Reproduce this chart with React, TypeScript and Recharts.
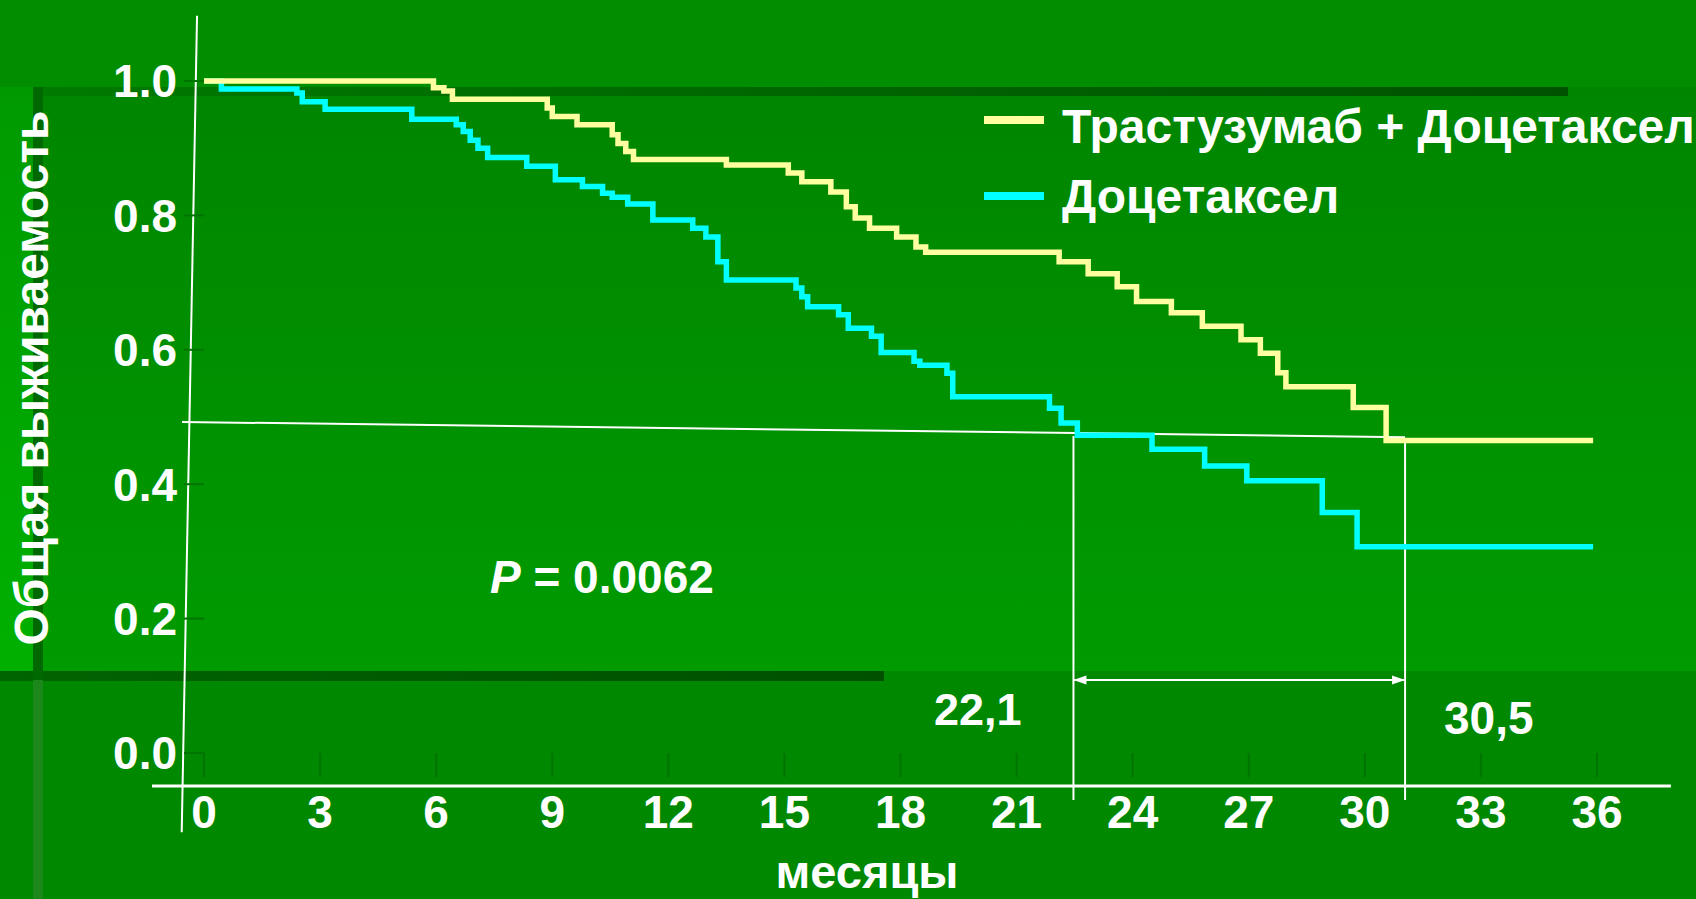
import React from "react";
import { LineChart, Line, XAxis, YAxis, ReferenceLine } from "recharts";

// Kaplan-Meier steps
const combMonths = [0, 5.93, 6.2, 6.42, 8.87, 9.0, 9.64, 10.55, 10.7, 10.9, 11.1, 13.5, 15.1, 15.45, 16.2, 16.6, 16.83, 17.2, 17.9, 18.4, 18.65, 22.1, 22.85, 23.6, 24.1, 25.0, 25.8, 26.8, 27.3, 27.75, 27.96, 29.7, 30.55, 35.9];
const combSurv = [1.0, 0.99, 0.985, 0.973, 0.96, 0.947, 0.935, 0.92, 0.907, 0.895, 0.883, 0.875, 0.863, 0.85, 0.835, 0.813, 0.796, 0.781, 0.768, 0.753, 0.745, 0.731, 0.713, 0.694, 0.672, 0.655, 0.635, 0.615, 0.595, 0.566, 0.545, 0.514, 0.465, 0.465];

const doceMonths = [0, 0.45, 2.4, 2.54, 3.13, 5.37, 6.52, 6.7, 6.88, 7.08, 7.33, 8.34, 9.08, 9.78, 10.3, 10.55, 10.95, 11.6, 12.63, 12.97, 13.28, 13.5, 15.3, 15.45, 15.6, 16.4, 16.65, 17.25, 17.5, 18.35, 18.5, 19.2, 19.35, 21.85, 22.15, 22.57, 24.5, 25.86, 26.95, 28.9, 29.8, 35.9];
const doceSurv = [1.0, 0.988, 0.982, 0.969, 0.958, 0.943, 0.935, 0.925, 0.912, 0.9, 0.886, 0.873, 0.853, 0.843, 0.833, 0.827, 0.817, 0.793, 0.781, 0.768, 0.731, 0.704, 0.692, 0.679, 0.664, 0.652, 0.632, 0.62, 0.596, 0.583, 0.577, 0.565, 0.53, 0.513, 0.491, 0.473, 0.452, 0.427, 0.405, 0.358, 0.307, 0.307];

const xTicks = [0, 3, 6, 9, 12, 15, 18, 21, 24, 27, 30, 33, 36];
const yTicks = [0, 0.2, 0.4, 0.6, 0.8, 1.0];

const seriesNames = ["Трастузумаб + Доцетаксел", "Доцетаксел"];
const seriesColors = ["#ffffa0", "#00ffff"];

// hand drawn lines of the slide, in data units
const yAxisSeg = [{ x: -0.18, y: 1.097 }, { x: -0.576, y: -0.118 }];
const xAxisSeg = [{ x: -1.343, y: -0.049 }, { x: 37.91, y: -0.049 }];
const medianSeg = [{ x: -0.568, y: 0.4926 }, { x: 31.04, y: 0.47 }];
const med1Seg = [{ x: 22.47, y: 0.4717 }, { x: 22.47, y: -0.07 }];
const med2Seg = [{ x: 31.04, y: 0.4688 }, { x: 31.04, y: -0.07 }];
const arrowSeg = [{ x: 22.47, y: 0.1086 }, { x: 31.04, y: 0.1086 }];

const FONT = '"Liberation Sans", Arial, Helvetica, sans-serif';

const combData = combMonths.map((t, i) => ({ t, s: combSurv[i] }));
const doceData = doceMonths.map((t, i) => ({ t, s: doceSurv[i] }));

const tickStyle = { fill: "#ffffff", fontSize: 46, fontWeight: 700, fontFamily: FONT };

const ArrowShape = (props: any) => {
  const { x1, y1, x2, y2 } = props;
  const h = 13;
  const w = 4.5;
  return (
    <g>
      <line x1={x1} y1={y1} x2={x2} y2={y2} stroke="#fff" strokeWidth={2} />
      <polygon points={`${x1},${y1} ${x1 + h},${y1 - w} ${x1 + h},${y1 + w}`} fill="#fff" />
      <polygon points={`${x2},${y2} ${x2 - h},${y2 - w} ${x2 - h},${y2 + w}`} fill="#fff" />
    </g>
  );
};

const box = (s: React.CSSProperties): React.CSSProperties => ({ position: "absolute", ...s });

export default function App() {
  return (
    <div style={box({ left: 0, top: 0, width: 1696, height: 899, overflow: "hidden", background: "#008e00", fontFamily: FONT })}>
      {/* slide background */}
      <div style={box({ left: 43, top: 87, width: 1653, height: 584, background: "linear-gradient(#008500, #009b00)" })} />
      <div style={box({ left: 0, top: 87, width: 33, height: 584, background: "linear-gradient(#009a00, #00b000)" })} />
      <div style={box({ left: 33, top: 87, width: 1535, height: 9, background: "linear-gradient(90deg, #007a00, #005200)" })} />
      <div style={box({ left: 0, top: 671, width: 1696, height: 228, background: "#008800" })} />
      <div style={box({ left: 0, top: 671, width: 884, height: 10, background: "linear-gradient(90deg, #006400, #005000)" })} />
      <div style={box({ left: 33, top: 87, width: 10, height: 593, background: "#006800" })} />
      <div style={box({ left: 33, top: 680, width: 10, height: 219, background: "#1c881c" })} />

      <div style={box({ left: 0, top: 0 })}>
        <LineChart width={1696} height={899} margin={{ top: 81, right: 99, bottom: 46, left: 84 }}>
          <XAxis
            type="number"
            dataKey="t"
            domain={[0, 36]}
            ticks={xTicks}
            interval={0}
            height={100}
            tickSize={24}
            tickMargin={18}
            axisLine={false}
            tickLine={{ stroke: "#007400", strokeWidth: 2 }}
            tick={tickStyle}
          />
          <YAxis
            type="number"
            domain={[0, 1]}
            ticks={yTicks}
            interval={0}
            width={120}
            tickSize={20}
            tickMargin={7}
            axisLine={false}
            tickLine={{ stroke: "#007400", strokeWidth: 2 }}
            tick={tickStyle}
            tickFormatter={(v: number) => v.toFixed(1)}
          />
          <ReferenceLine segment={yAxisSeg} stroke="#fff" strokeWidth={2} ifOverflow="visible" />
          <ReferenceLine segment={xAxisSeg} stroke="#fff" strokeWidth={3} ifOverflow="visible" />
          <ReferenceLine segment={medianSeg} stroke="#fff" strokeWidth={2} ifOverflow="visible" />
          <ReferenceLine segment={med1Seg} stroke="#fff" strokeWidth={2} ifOverflow="visible" />
          <ReferenceLine segment={med2Seg} stroke="#fff" strokeWidth={2} ifOverflow="visible" />
          <ReferenceLine segment={arrowSeg} ifOverflow="visible" shape={ArrowShape} />
          <Line
            data={doceData}
            dataKey="s"
            type="stepAfter"
            stroke={seriesColors[1]}
            strokeWidth={5.5}
            dot={false}
            activeDot={false}
            isAnimationActive={false}
          />
          <Line
            data={combData}
            dataKey="s"
            type="stepAfter"
            stroke={seriesColors[0]}
            strokeWidth={5.5}
            dot={false}
            activeDot={false}
            isAnimationActive={false}
          />
        </LineChart>
      </div>

      {/* texts on top */}
      <svg width={1696} height={899} style={box({ left: 0, top: 0, pointerEvents: "none" })}>
        <g fontFamily={FONT} fontWeight={700} fill="#fff">
          <text x={48} y={378} fontSize={48} textAnchor="middle" transform="rotate(-90 48 378)">
            Общая выживаемость
          </text>
          <text x={867} y={888} fontSize={47} textAnchor="middle">месяцы</text>
          <text x={490} y={593} fontSize={46}>
            <tspan fontStyle="italic">P</tspan> = 0.0062
          </text>
          <text x={934} y={725} fontSize={45}>22,1</text>
          <text x={1444} y={734} fontSize={46}>30,5</text>
          {seriesNames.map((name, i) => (
            <g key={name}>
              <line x1={984} x2={1044} y1={120 + i * 76} y2={120 + i * 76} stroke={seriesColors[i]} strokeWidth={8} />
              <text x={1062} y={143 + i * 70} fontSize={48}>{name}</text>
            </g>
          ))}
        </g>
      </svg>
    </div>
  );
}
